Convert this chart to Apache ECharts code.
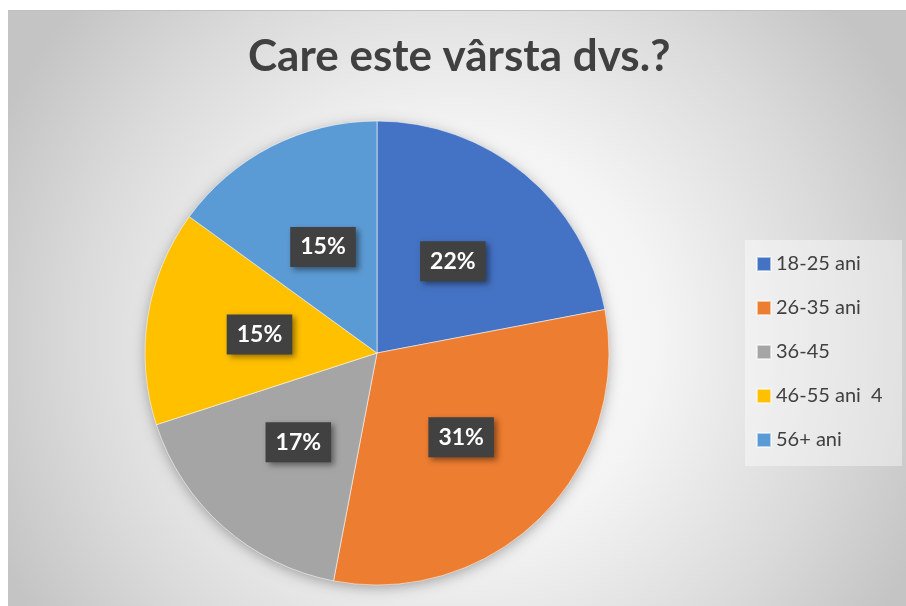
<!DOCTYPE html>
<html>
<head>
<meta charset="utf-8">
<script src="https://cdn.jsdelivr.net/npm/echarts@6/dist/echarts.min.js"></script>
<style>
  html, body { margin: 0; padding: 0; background: #fff; }
  #chart { width: 906px; height: 606px; }
</style>
</head>
<body>
<div id="chart"></div>
<script>
// date
var categorii = ['18-25 ani', '26-35 ani', '36-45', '46-55 ani  4', '56+ ani'];
var procente = [22, 31, 17, 15, 15];
var culori = ['#4472C4', '#ED7D31', '#A5A5A5', '#FFC000', '#5B9BD5'];
var titlu = 'Care este vârsta dvs.?';

var myChart = echarts.init(document.getElementById('chart'));

var date = categorii.map(function (c, i) {
    return { name: c, value: procente[i], itemStyle: { color: culori[i] } };
});

myChart.setOption({
    animation: false,
    title: {
        text: titlu,
        left: 248,
        top: 35,
        padding: 0,
        textStyle: {
            fontFamily: 'Lato',
            fontWeight: 'bold',
            fontSize: 44,
            color: '#404040'
        }
    },
    graphic: [
        { // fundal cu degrade radial
            type: 'rect',
            z: -10,
            silent: true,
            shape: { x: 8, y: 10, width: 898, height: 596 },
            style: {
                fill: new echarts.graphic.RadialGradient(0.5, 0.55, 0.85, [
                    { offset: 0, color: '#ffffff' },
                    { offset: 0.4, color: '#f4f4f4' },
                    { offset: 0.75, color: '#dadada' },
                    { offset: 1, color: '#c4c4c4' }
                ])
            }
        },
        { // linia de sus
            type: 'rect',
            z: -9,
            silent: true,
            shape: { x: 8, y: 10, width: 898, height: 1 },
            style: { fill: '#c0c0c0' }
        },
        { // fundal legenda
            type: 'rect',
            z: -5,
            silent: true,
            shape: { x: 745, y: 240, width: 157, height: 226 },
            style: { fill: 'rgba(255,255,255,0.4)' }
        }
    ],
    legend: {
        orient: 'vertical',
        left: 756,
        top: 254,
        padding: 0,
        itemWidth: 14,
        itemHeight: 14,
        itemGap: 24,
        icon: 'rect',
        data: categorii,
        textStyle: {
            fontFamily: 'Lato',
            fontSize: 20,
            color: '#404040'
        }
    },
    series: [
        { // umbra sub placinta
            type: 'pie',
            silent: true,
            z: 1,
            center: [377, 353],
            radius: 231,
            label: { show: false },
            legendHoverLink: false,
            itemStyle: {
                color: '#bbbbbb',
                shadowBlur: 14,
                shadowColor: 'rgba(0,0,0,0.35)',
                shadowOffsetY: 3
            },
            data: [{ name: '_umbra', value: 1 }]
        },
        {
            type: 'pie',
            z: 2,
            center: [377, 353],
            radius: 232,
            startAngle: 90,
            clockwise: true,
            itemStyle: {
                borderColor: 'rgba(255,255,255,0.55)',
                borderWidth: 1
            },
            label: {
                show: true,
                position: 'inside',
                formatter: '{d}%',
                fontFamily: 'Lato',
                fontWeight: 'bold',
                fontSize: 23,
                color: '#ffffff',
                backgroundColor: '#414141',
                padding: [9, 10, 8, 10],
                shadowBlur: 6,
                shadowColor: 'rgba(0,0,0,0.45)',
                shadowOffsetX: 3,
                shadowOffsetY: 3
            },
            labelLine: { show: false },
            data: date
        }
    ]
});
</script>
</body>
</html>
